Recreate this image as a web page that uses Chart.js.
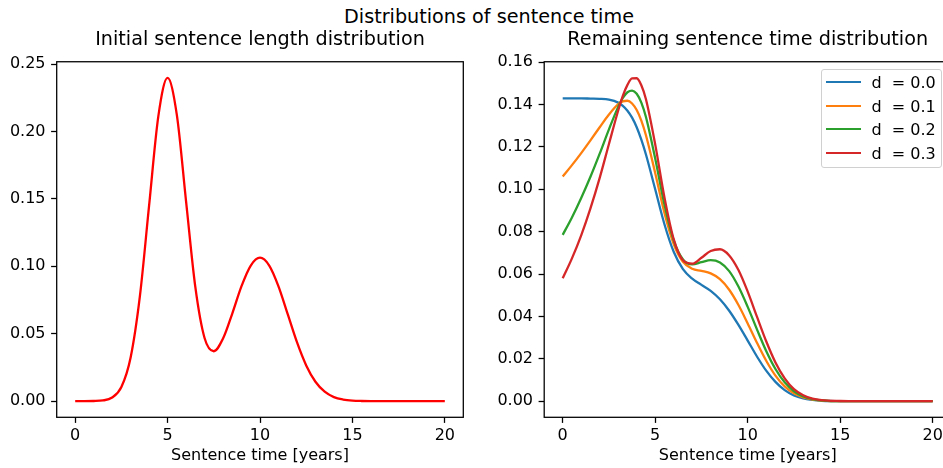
<!DOCTYPE html>
<html lang="en">
<head>
<meta charset="UTF-8">
<title>Distributions of sentence time</title>
<script src="https://cdn.jsdelivr.net/npm/chart.js"></script>
<style>
  html, body { margin: 0; padding: 0; overflow: hidden; background: #fff; }
  body { width: 943px; height: 468px; position: relative; font-family: 'DejaVu Sans', sans-serif; }
  canvas { position: absolute; top: 0; left: 0; }
  .panel { position: absolute; top: 0; height: 468px; overflow: hidden; }
  #suptitle { position: absolute; top: 7px; left: 489px; transform: translateX(-50%); font-size: 19.2px; line-height: 19.2px; white-space: nowrap; color: #000; }
  #legend { position: absolute; left: 820.7px; top: 69.3px; width: 121.8px; height: 98.4px; box-sizing: border-box; border: 1px solid #d0d0d0; border-radius: 3px; background: rgba(255,255,255,0.8); z-index: 2; }
  .row-line { position: absolute; left: 4px; width: 35px; height: 2px; }
  .row-text { position: absolute; left: 49.8px; font-size: 16px; line-height: 16px; white-space: pre; color: #000; }
</style>
</head>
<body>
<div id="suptitle">Distributions of sentence time</div>
<div class="panel" style="left:0; width:472px"><canvas id="initChart" width="472" height="468"></canvas></div>
<div class="panel" style="left:472px; width:471px"><canvas id="remChart" width="482" height="468"></canvas></div>
<div id="legend"></div>

<script>
// left panel: initial sentence length density
const initialX = [0, 0.5, 1, 1.5, 2, 2.5, 3, 3.5, 4, 4.5, 5, 5.5, 6, 6.5, 7, 7.5, 8, 8.5, 9, 9.5,
                  10, 10.5, 11, 11.5, 12, 12.5, 13, 13.5, 14, 14.5, 15, 15.5, 16, 16.5, 17, 17.5, 18, 18.5, 19, 19.5, 20];
const initialY = [0.0000, 0.0000, 0.0001, 0.0005, 0.0027, 0.0105, 0.0324, 0.0777, 0.1452, 0.2114,
                  0.2398, 0.2124, 0.1482, 0.0847, 0.0468, 0.0370, 0.0464, 0.0650, 0.0853, 0.1006,
                  0.1064, 0.1006, 0.0852, 0.0645, 0.0437, 0.0265, 0.0144, 0.0070, 0.0030, 0.0012,
                  0.0004, 0.0001, 0, 0, 0, 0, 0, 0, 0, 0, 0];

// right panel: remaining sentence time density for each d
const remainX = [0, 0.5, 1, 1.5, 2, 2.5, 3, 3.25, 3.5, 3.75, 4, 4.25, 4.5, 5, 5.5, 6, 6.5, 7, 7.5, 8,
                 8.5, 9, 9.5, 10, 10.5, 11, 11.5, 12, 12.5, 13, 13.5, 14, 15, 16, 17, 18, 19, 20];
const remainD00 = [0.1429, 0.1429, 0.1429, 0.1428, 0.1427, 0.1423, 0.1409, 0.1394, 0.1371, 0.1338, 0.1293, 0.1234, 0.1164,
                   0.1000, 0.0835, 0.0705, 0.0623, 0.0578, 0.0549, 0.0521, 0.0481, 0.0427, 0.0360, 0.0286, 0.0211,
                   0.0144, 0.0091, 0.0052, 0.0027, 0.0013, 0.0006, 0.0002, 0, 0, 0, 0, 0, 0];
const remainD01 = [0.1060, 0.1114, 0.1171, 0.1231, 0.1293, 0.1353, 0.1402, 0.1415, 0.1418, 0.1405, 0.1374, 0.1324, 0.1255,
                   0.1077, 0.0888, 0.0742, 0.0658, 0.0625, 0.0615, 0.0603, 0.0576, 0.0526, 0.0454, 0.0367, 0.0276,
                   0.0191, 0.0121, 0.0070, 0.0037, 0.0018, 0.0008, 0.0003, 0, 0, 0, 0, 0, 0];
const remainD02 = [0.0785, 0.0867, 0.0959, 0.1059, 0.1168, 0.1283, 0.1389, 0.1431, 0.1458, 0.1466, 0.1451, 0.1409, 0.1341,
                   0.1145, 0.0928, 0.0759, 0.0669, 0.0646, 0.0656, 0.0666, 0.0655, 0.0614, 0.0541, 0.0445, 0.0339,
                   0.0237, 0.0152, 0.0089, 0.0047, 0.0023, 0.0010, 0.0004, 0, 0, 0, 0, 0, 0];
const remainD03 = [0.0580, 0.0674, 0.0783, 0.0910, 0.1054, 0.1214, 0.1372, 0.1441, 0.1493, 0.1523, 0.1524, 0.1491, 0.1425,
                   0.1212, 0.0962, 0.0765, 0.0665, 0.0649, 0.0677, 0.0709, 0.0717, 0.0688, 0.0619, 0.0517, 0.0399,
                   0.0283, 0.0183, 0.0108, 0.0057, 0.0028, 0.0012, 0.0005, 0.0001, 0, 0, 0, 0, 0];
const seriesLabels = ['d  = 0.0', 'd  = 0.1', 'd  = 0.2', 'd  = 0.3'];
const seriesColors = ['#1f77b4', '#ff7f0e', '#2ca02c', '#d62728'];

// tick labels
const xTicks = [0, 5, 10, 15, 20];
const initialYTicks = [0, 0.05, 0.10, 0.15, 0.20, 0.25];
const remainYTicks = [0, 0.02, 0.04, 0.06, 0.08, 0.10, 0.12, 0.14, 0.16];

Chart.defaults.font.family = "'DejaVu Sans', sans-serif";
Chart.defaults.color = '#000';

// matplotlib style box round the axes
const frame = {
    id: 'frame',
    afterDatasetsDraw(chart) {
        const a = chart.chartArea;
        const ctx = chart.ctx;
        ctx.save();
        ctx.strokeStyle = '#000';
        ctx.lineWidth = 1.28;
        ctx.strokeRect(a.left, a.top, a.right - a.left, a.bottom - a.top);
        ctx.restore();
    }
};

const tickGrid = { display: true, drawOnChartArea: false, drawTicks: true, tickLength: 5.6, tickWidth: 1.28, tickColor: '#000' };

function xScale() {
    return {
        type: 'linear', min: -1, max: 21,
        grid: tickGrid,
        border: { display: false },
        ticks: { padding: 3, font: { size: 16 }, maxRotation: 0, autoSkip: false, callback: v => v },
        title: { display: true, text: 'Sentence time [years]', font: { size: 16 }, padding: { top: 0, bottom: 2.2 } },
        afterBuildTicks: s => { s.ticks = xTicks.map(v => ({ value: v })); },
        afterFit: s => { s.height = 50.7; s.paddingLeft = 0; s.paddingRight = 0; }
    };
}

function yScale(min, max, ticks, width) {
    return {
        type: 'linear', min: min, max: max,
        grid: tickGrid,
        border: { display: false },
        ticks: { padding: 5.6, font: { size: 16 }, autoSkip: false, callback: v => v.toFixed(2) },
        afterBuildTicks: s => { s.ticks = ticks.map(v => ({ value: v })); },
        afterFit: s => { s.width = width; s.paddingTop = 0; s.paddingBottom = 0; }
    };
}

function panelTitle(text) {
    return { display: true, fullSize: false, text: text, font: { size: 19.2, weight: 'normal' }, padding: { top: 28.6, bottom: 10.1 } };
}

const initChart = new Chart(document.getElementById('initChart'), {
    type: 'line',
    data: {
        datasets: [{
            label: 'initial',
            data: initialX.map((x, i) => ({ x: x, y: initialY[i] })),
            borderColor: '#ff0000',
            borderWidth: 2.3,
            pointRadius: 0,
            cubicInterpolationMode: 'monotone',
            fill: false
        }]
    },
    options: {
        responsive: false, animation: false, devicePixelRatio: 1,
        layout: { padding: { left: 0, right: 8.7, top: 0, bottom: 0 } },
        plugins: {
            legend: { display: false },
            tooltip: { enabled: false },
            title: panelTitle('Initial sentence length distribution')
        },
        scales: {
            x: xScale(),
            y: yScale(-0.012, 0.2518, initialYTicks, 56.7)
        }
    },
    plugins: [frame]
});

const remainSeries = [remainD00, remainD01, remainD02, remainD03];

const remChart = new Chart(document.getElementById('remChart'), {
    type: 'line',
    data: {
        datasets: remainSeries.map((ys, k) => ({
            label: seriesLabels[k],
            data: remainX.map((x, i) => ({ x: x, y: ys[i] })),
            borderColor: seriesColors[k],
            borderWidth: 2.3,
            pointRadius: 0,
            cubicInterpolationMode: 'monotone',
            fill: false,
            order: remainSeries.length - k
        }))
    },
    options: {
        responsive: false, animation: false, devicePixelRatio: 1,
        layout: { padding: { left: 0, right: 2.8, top: 0, bottom: 0 } },
        plugins: {
            legend: { display: false },
            tooltip: { enabled: false },
            title: panelTitle('Remaining sentence time distribution')
        },
        scales: {
            x: xScale(),
            y: yScale(-0.0076, 0.1602, remainYTicks, 72.2)
        }
    },
    plugins: [frame]
});

// legend box in the upper right corner, built from the chart's datasets
const legendBox = document.getElementById('legend');
remChart.data.datasets.forEach((ds, i) => {
    const line = document.createElement('div');
    line.className = 'row-line';
    line.style.top = Math.round(11 + 23.67 * i) + 'px';
    line.style.background = ds.borderColor;
    legendBox.appendChild(line);
    const text = document.createElement('div');
    text.className = 'row-text';
    text.style.top = (4.65 + 23.67 * i) + 'px';
    text.textContent = ds.label;
    legendBox.appendChild(text);
});
</script>
</body>
</html>
